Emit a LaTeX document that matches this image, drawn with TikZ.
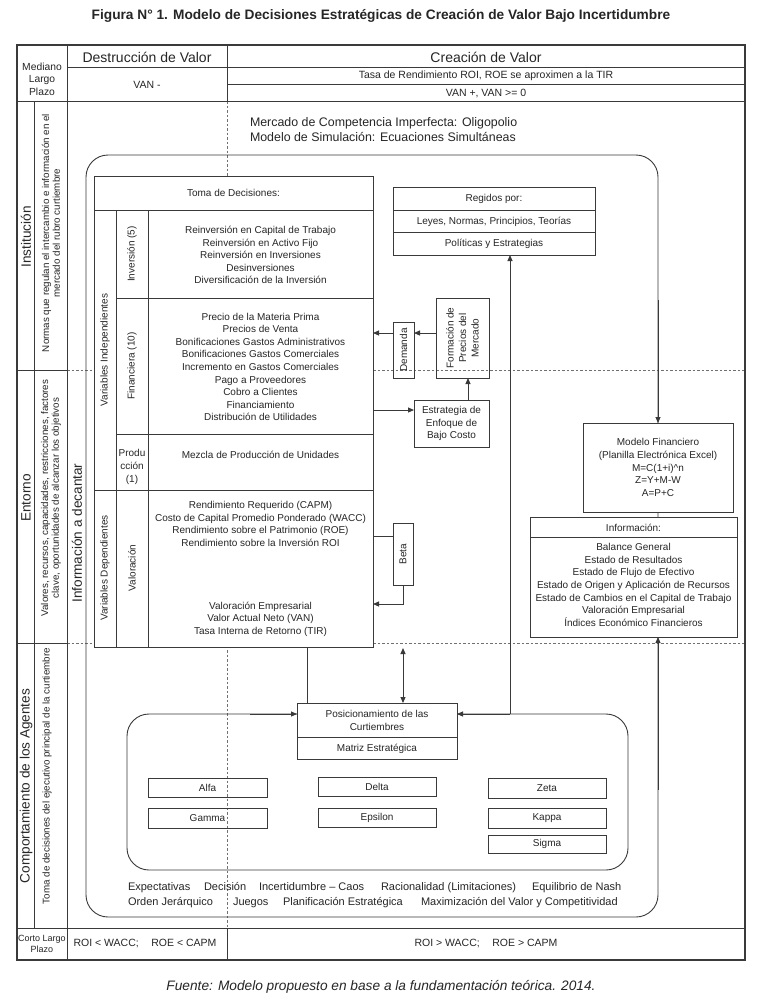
\documentclass[tikz,border=0pt]{standalone}
\usepackage{fontspec}
\setmainfont{Liberation Sans}
\usetikzlibrary{arrows.meta}
\definecolor{lnc}{HTML}{3A3A3A}
\definecolor{txc}{HTML}{262626}
\definecolor{dshc}{HTML}{707070}
\newcommand{\myfs}[2]{\fontsize{#1}{#2}\selectfont}
\begin{document}
\begin{tikzpicture}[x=1pt,y=-1pt,
  every node/.style={text=txc, inner sep=0pt, outer sep=0pt},
  ln/.style={draw=lnc, line width=0.9pt},
  frame/.style={draw=lnc, line width=1.8pt},
  dsh/.style={draw=dshc, line width=0.8pt, dash pattern=on 2.5pt off 2pt},
  arr/.style={draw=lnc, line width=0.9pt, -{Triangle[length=6pt,width=5pt]}},
  darr/.style={draw=lnc, line width=0.9pt, {Triangle[length=6pt,width=5pt]}-{Triangle[length=6pt,width=5pt]}},
  box/.style={draw=lnc, line width=0.9pt, fill=white},
  obox/.style={draw=lnc, line width=0.9pt},
  tx/.style={font=\myfs{10}{12.6}, align=center},
  big/.style={font=\myfs{13.6}{15}, align=center},
  hd/.style={font=\myfs{14}{16}, align=center},
  sm/.style={font=\myfs{9.8}{10.8}, align=center},
  med/.style={font=\myfs{10.5}{12.5}, align=center},
  lab/.style={font=\myfs{11}{13}, anchor=base west}
]
\useasboundingbox (0,0) rectangle (762,1005);
\fill[white] (0,0) rectangle (762,1005);

% title
\node[font=\bfseries\myfs{13.7}{16}] (title) at (381,16) {Figura N° 1. Modelo de Decisiones Estratégicas de Creación de Valor Bajo Incertidumbre};

% dashed guide lines
\draw[dsh] (67,370) -- (745,370);
\draw[dsh] (67,643) -- (745,643);
\draw[dsh] (227,101) -- (227,928);

% table frame
\draw[frame] (17,45) rectangle (745,960);
\draw[ln] (67,45) -- (67,960);
\draw[ln] (227,45) -- (227,101);
\draw[ln] (67,67) -- (745,67);
\draw[ln] (227,84) -- (745,84);
\draw[ln] (17,101) -- (745,101);
\draw[ln] (34,101) -- (34,928);
\draw[ln] (17,370) -- (67,370);
\draw[ln] (17,643) -- (67,643);
\draw[ln] (17,928) -- (745,928);
\draw[ln] (227,928) -- (227,960);

% header texts
\node[med, font=\myfs{10.3}{12.6}] (mlp) at (42,79) {Mediano\\Largo\\Plazo};
\node[hd] (dv) at (147,57) {Destrucción de Valor};
\node[hd] (cv) at (486,57) {Creación de Valor};
\node[med] (vanm) at (147,85) {VAN -};
\node[med] (tasa) at (486,76) {Tasa de Rendimiento ROI, ROE se aproximen a la TIR};
\node[med] (vanp) at (486,93) {VAN +, VAN >= 0};

% side labels
\node[big, rotate=90] (inst) at (26,237) {Institución};
\node[sm, rotate=90] (instd) at (51,233) {Normas que regulan el intercambio e información en el\\mercado del rubro curtiembre};
\node[big, rotate=90] (ento) at (26,498) {Entorno};
\node[sm, rotate=90] (entod) at (51,498) {Valores, recursos, capacidades, restricciones, factores\\clave, oportunidades de alcanzar los objetivos};
\node[big, rotate=90] (comp) at (26,786) {Comportamiento de los Agentes};
\node[sm, rotate=90] (compd) at (47,776) {Toma de decisiones del ejecutivo principal de la curtiembre};
\node[big, rotate=90] (idec) at (77,533) {Información a decantar};

% bottom row
\node[sm, font=\myfs{9}{10.5}] (clp) at (42,944) {Corto Largo\\Plazo};
\node[med] (roil) at (145,943) {ROI < WACC;\hspace{1.2em}ROE < CAPM};
\node[med] (roig) at (486,943) {ROI > WACC;\hspace{1.2em}ROE > CAPM};

% outer rounded frame
\draw[ln, rounded corners=22pt] (86,155) rectangle (658,917);
\node[font=\myfs{12.4}{15}, anchor=west, align=left] (merc) at (250,130) {Mercado de Competencia Imperfecta: Oligopolio\\Modelo de Simulación: Ecuaciones Simultáneas};

% Toma de decisiones table
\node[box, minimum width=279pt, minimum height=471pt] (toma) at (233.5,411.5) {};
\draw[ln] (94,210) -- (373,210);
\draw[ln] (116,210) -- (116,647);
\draw[ln] (148,210) -- (148,647);
\draw[ln] (116,298) -- (373,298);
\draw[ln] (116,434) -- (373,434);
\draw[ln] (94,490) -- (373,490);
\node[tx] (tomah) at (233.5,193) {Toma de Decisiones:};
\node[tx, rotate=90] (vind) at (105,350) {Variables Independientes};
\node[tx, rotate=90] (vdep) at (105,568) {Variables Dependientes};
\node[tx, rotate=90] (inv) at (132,254) {Inversión (5)};
\node[tx, rotate=90] (fin) at (132,366) {Financiera (10)};
\node[tx] (prod) at (132,467) {Produ\\cción\\(1)};
\node[tx, rotate=90] (val) at (132,568) {Valoración};
\node[tx] (invi) at (260.5,255) {Reinversión en Capital de Trabajo\\Reinversión en Activo Fijo\\Reinversión en Inversiones\\Desinversiones\\Diversificación de la Inversión};
\node[tx] (fini) at (260.5,367) {Precio de la Materia Prima\\Precios de Venta\\Bonificaciones Gastos Administrativos\\Bonificaciones Gastos Comerciales\\Incremento en Gastos Comerciales\\Pago a Proveedores\\Cobro a Clientes\\Financiamiento\\Distribución de Utilidades};
\node[tx] (prodi) at (260.5,455) {Mezcla de Producción de Unidades};
\node[tx] (vali) at (260.5,524) {Rendimiento Requerido (CAPM)\\Costo de Capital Promedio Ponderado (WACC)\\Rendimiento sobre el Patrimonio (ROE)\\Rendimiento sobre la Inversión ROI};
\node[tx] (valj) at (260.5,619) {Valoración Empresarial\\Valor Actual Neto (VAN)\\Tasa Interna de Retorno (TIR)};

% Regidos por
\node[box, minimum width=202pt, minimum height=68pt] (reg) at (494,221) {};
\draw[ln] (393,210) -- (595,210);
\draw[ln] (393,232) -- (595,232);
\node[tx] (regh) at (494,199) {Regidos por:};
\node[tx] (reg1) at (494,221.5) {Leyes, Normas, Principios, Teorías};
\node[tx] (reg2) at (494,244) {Políticas y Estrategias};

% Demanda, Formacion, Estrategia
\node[obox, minimum width=21pt, minimum height=56pt] (dem) at (403.5,350) {};
\node[tx, rotate=90] (demt) at (dem.center) {Demanda};
\node[obox, minimum width=53pt, minimum height=80pt] (form) at (462.5,338) {};
\node[tx, rotate=90] (formt) at (form.center) {Formación de\\Precios del\\Mercado};
\node[obox, minimum width=75pt, minimum height=47pt] (estr) at (451.5,423.5) {};
\node[tx] (estrt) at (estr.center) {Estrategia de\\Enfoque de\\Bajo Costo};
\draw[arr] (form.west |- 0,333) -- (dem.east |- 0,333);
\draw[arr] (dem.west |- 0,333) -- (toma.east |- 0,333);
\draw[arr] (estr.north -| 468,0) -- (form.south -| 468,0);
\draw[arr] (toma.east |- 0,410) -- (estr.west |- 0,410);

% Beta
\node[obox, minimum width=20pt, minimum height=62pt] (beta) at (403,554) {};
\node[tx, rotate=90] (betat) at (beta.center) {Beta};
\coordinate (gbot) at (403,648);
\draw[ln] (toma.east |- 0,536) -- (beta.west |- 0,536);
\draw[arr] (beta.south) |- (toma.east |- 0,604);

% Modelo financiero & Informacion
\node[box, minimum width=150pt, minimum height=89pt] (mf) at (658,467.5) {};
\node[tx] (mft) at (mf.center) {Modelo Financiero\\(Planilla Electrónica Excel)\\M=C(1+i)\textasciicircum n\\Z=Y+M-W\\A=P+C};
\node[box, minimum width=207pt, minimum height=120pt] (info) at (633.5,577) {};
\draw[ln] (530,537) -- (737,537);
\node[tx] (infoh) at (633.5,527.5) {Información:};
\node[tx] (infot) at (633.5,585) {Balance General\\Estado de Resultados\\Estado de Flujo de Efectivo\\Estado de Origen y Aplicación de Recursos\\Estado de Cambios en el Capital de Trabajo\\Valoración Empresarial\\Índices Económico Financieros};
\draw[arr] (658,300) -- (mf.north -| 658,0);
\draw[arr] (658,790) -- (info.south -| 658,0);

% bottom area
\draw[ln, rounded corners=22pt] (127,714) rectangle (628,870);
\node[box, minimum width=160pt, minimum height=56pt] (pos) at (377,731) {};
\draw[ln] (297,737) -- (457,737);
\node[tx] (post) at (377,720.5) {Posicionamiento de las\\Curtiembres};
\node[tx] (matr) at (377,748.5) {Matriz Estratégica};
\draw[arr] (250,714) -- (pos.west |- 0,714);
\draw[arr] (510,714) -- (pos.east |- 0,714);
\draw[arr] (510,714) -- (reg.south -| 510,0);
\draw[ln] (toma.south -| 307,0) -- (pos.north -| 307,0);
\draw[darr] (gbot) -- (pos.north -| gbot);

\node[obox, tx, minimum width=119pt, minimum height=19pt] (alfa) at (207.5,787.5) {Alfa};
\node[obox, tx, minimum width=119pt, minimum height=20pt] (gamma) at (207.5,818) {Gamma};
\node[obox, tx, minimum width=118pt, minimum height=19pt] (delta) at (377,786.5) {Delta};
\node[obox, tx, minimum width=118pt, minimum height=19pt] (eps) at (377,817.5) {Epsilon};
\node[obox, tx, minimum width=118pt, minimum height=20pt] (zeta) at (547,788) {Zeta};
\node[obox, tx, minimum width=118pt, minimum height=20pt] (kappa) at (547,818) {Kappa};
\node[obox, tx, minimum width=118pt, minimum height=18pt] (sigma) at (547,844) {Sigma};

\node[lab] (w1) at (128,890) {Expectativas};
\node[lab] (w2) at (204,890) {Decisión};
\node[lab] (w3) at (259,890) {Incertidumbre – Caos};
\node[lab] (w4) at (381,890) {Racionalidad (Limitaciones)};
\node[lab] (w5) at (532,890) {Equilibrio de Nash};
\node[lab] (w6) at (128,905) {Orden Jerárquico};
\node[lab] (w7) at (233,905) {Juegos};
\node[lab] (w8) at (283,905) {Planificación Estratégica};
\node[lab] (w9) at (421,905) {Maximización del Valor y Competitividad};

% footer
\node[font=\itshape\myfs{13.7}{16}] (fuente) at (381,987) {Fuente: Modelo propuesto en base a la fundamentación teórica. 2014.};
\end{tikzpicture}
\end{document}
